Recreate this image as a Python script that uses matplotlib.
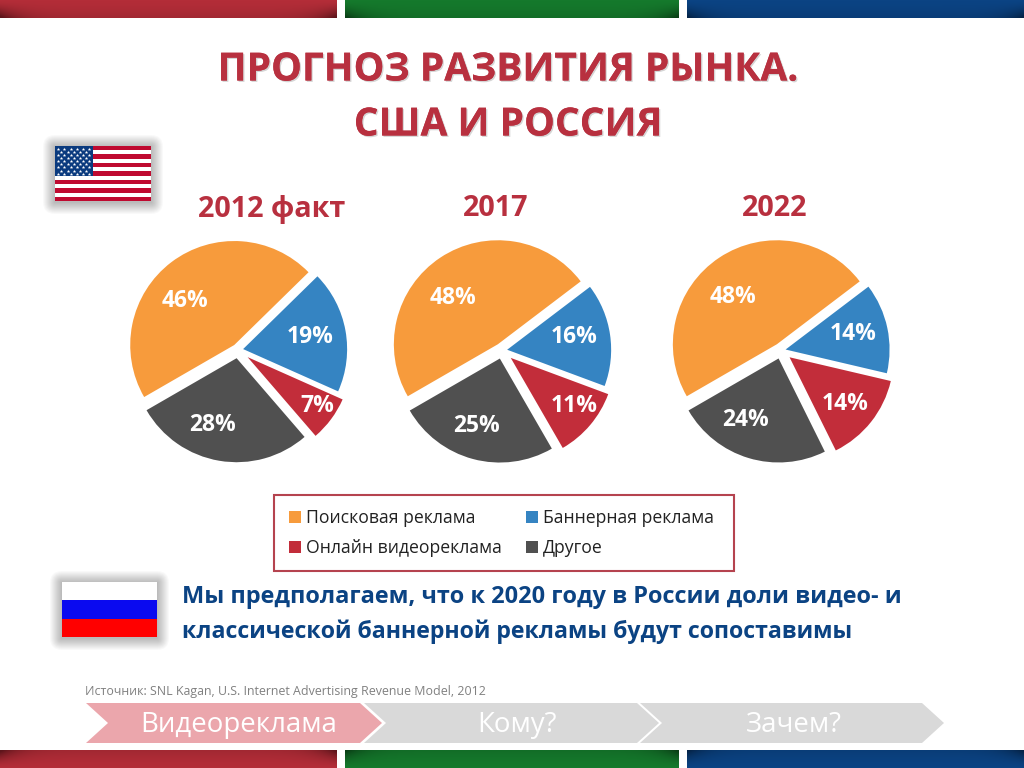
# encoding: utf-8
import matplotlib
matplotlib.use('Agg')
import matplotlib.pyplot as plt
import matplotlib.patheffects as pe
from matplotlib.patches import Rectangle, Polygon, FancyBboxPatch
import numpy as np

plt.rcParams['font.family'] = ['Open Sans', 'DejaVu Sans']

years = ['2012 факт', '2017', '2022']
categories = ['Поисковая реклама', 'Баннерная реклама', 'Онлайн видеореклама', 'Другое']
shares_2012 = [46, 19, 7, 28]
shares_2017 = [48, 16, 11, 25]
shares_2022 = [48, 14, 14, 24]
shares = [shares_2012, shares_2017, shares_2022]
steps = ['Видеореклама', 'Кому?', 'Зачем?']

colors = ['#F79B3C', '#3584C2', '#C22D3A', '#505050']
RED = '#B8303F'
BLUE = '#0B4383'

# centre of each pie in pixels, start angle, how far each slice is pulled out
pie_centres = [(238, 350), (502, 350.5), (781, 350.5)]
start_angles = [210, 210, 210]
explodes = [
    [0.06, 0.05, 0.115, 0.08],
    [0.072, 0.05, 0.11, 0.08],
    [0.072, 0.045, 0.105, 0.08],
]
year_x = [272, 496, 775]
# label pixel positions for every pie, same order as the data
label_pos = [
    [(185, 300), (310, 336), (317, 405), (213, 424)],
    [(453, 297), (574, 336), (574, 405), (477, 425)],
    [(733, 296), (853, 333), (845, 403), (746, 419)],
]

fig = plt.figure(figsize=(10.24, 7.68), dpi=100)
bg = fig.add_axes([0, 0, 1, 1])
bg.set_xlim(0, 1024)
bg.set_ylim(768, 0)
bg.axis('off')


def bar(x0, x1, y0, y1, col_mid, col_dark, flip=False):
    # gradient bar, darker along one edge and in the corners of that edge
    a = np.array(matplotlib.colors.to_rgb(col_mid))
    b = np.array(matplotlib.colors.to_rgb(col_dark))
    w = x1 - x0
    h = y1 - y0
    xs = np.abs(np.linspace(-1, 1, w)) ** 9
    ys = np.linspace(0, 1, h) ** 1.5
    if flip:
        ys = ys[::-1]
    t = np.clip(np.outer(ys, 0.2 + 0.9 * xs), 0, 1)[..., None]
    img = a * (1 - t) + b * t
    bg.imshow(img, extent=(x0, x1, y1, y0), aspect='auto', zorder=1, interpolation='bilinear')


for y0, y1, flip in [(0, 18, False), (750, 768, True)]:
    bar(0, 337, y0, y1, '#B32D38', '#5E151B', flip)
    bar(345, 679, y0, y1, '#15792C', '#0A3F16', flip)
bar(687, 1024, 0, 18, '#0B4383', '#052448', False)
bar(687, 1024, 750, 768, '#0B4383', '#052448', True)
bg.set_xlim(0, 1024)
bg.set_ylim(768, 0)


def shadow(x0, y0, x1, y1):
    for i in range(12, 0, -1):
        bg.add_patch(FancyBboxPatch((x0 - i, y0 - i + 1), x1 - x0 + 2 * i, y1 - y0 + 2 * i,
                                    boxstyle='round,pad=0,rounding_size=%d' % i,
                                    fc='#000000', ec='none', alpha=0.022, zorder=2))


# USA flag
fx0, fy0, fx1, fy1 = 55, 146, 151, 201
shadow(fx0, fy0, fx1, fy1)
bg.add_patch(Rectangle((fx0, fy0), fx1 - fx0, fy1 - fy0, fc='white', ec='none', zorder=3))
sh = (fy1 - fy0) / 13
for i in range(0, 13, 2):
    bg.add_patch(Rectangle((fx0, fy0 + i * sh), fx1 - fx0, sh, fc='#BF0A30', ec='none', zorder=3))
bg.add_patch(Rectangle((fx0, fy0), 38, 7 * sh, fc='#0A3A7E', ec='none', zorder=4))
sx, sy = [], []
for r in range(9):
    n = 6 if r % 2 == 0 else 5
    for c in range(n):
        sx.append(fx0 + 3.2 + c * 6.2 + (0 if r % 2 == 0 else 3.1))
        sy.append(fy0 + 2.8 + r * 3.1)
bg.scatter(sx, sy, s=7, marker='*', c='white', linewidths=0, zorder=5)

# Russian flag
rx0, ry0, rx1, ry1 = 62, 582, 157, 637
shadow(rx0, ry0, rx1, ry1)
for i, c in enumerate(['#FFFFFF', '#0A0AF0', '#FF0000']):
    bg.add_patch(Rectangle((rx0, ry0 + i * (ry1 - ry0) / 3), rx1 - rx0, (ry1 - ry0) / 3, fc=c, ec='none', zorder=3))

# title
title_fx = [pe.withSimplePatchShadow(offset=(1, -1), shadow_rgbFace='#888888', alpha=0.35), pe.Normal()]
bg.text(508, 70, 'ПРОГНОЗ РАЗВИТИЯ РЫНКА.', ha='center', va='center', fontsize=28, fontweight='bold',
        color=RED, path_effects=title_fx, zorder=6)
bg.text(508, 125, 'США И РОССИЯ', ha='center', va='center', fontsize=28, fontweight='bold',
        color=RED, path_effects=title_fx, zorder=6)

for x, name in zip(year_x, years):
    bg.text(x, 209, name, ha='center', va='center', fontsize=20.7, fontweight='bold', color=RED, zorder=6)

# pies
size = 260
for vals, (cx, cy), ang, expl, pos in zip(shares, pie_centres, start_angles, explodes, label_pos):
    ax = fig.add_axes([(cx - size / 2) / 1024, 1 - (cy + size / 2) / 768, size / 1024, size / 768])
    ax.pie(vals, colors=colors, startangle=ang, counterclock=False, explode=expl,
           wedgeprops={'linewidth': 0})
    ax.patch.set_alpha(0)
    for v, (px, py) in zip(vals, pos):
        fig.text(px / 1024, 1 - (py + 1) / 768, '%d%%' % v, ha='center', va='center', fontsize=16.5,
                 fontweight='bold', color='white', zorder=10)

# legend box
bg.add_patch(Rectangle((274, 495), 460, 76, fc='white', ec='#B5434F', lw=1.5, zorder=2))
leg_x = [289, 526, 289, 526]
leg_y = [517, 517, 547, 547]
for name, c, x, y in zip(categories, colors, leg_x, leg_y):
    bg.add_patch(Rectangle((x, y - 6), 12, 12, fc=c, ec='none', zorder=3))
    bg.text(x + 17, y + 1, name, ha='left', va='center', fontsize=12.7, color='#222222', zorder=3)

# russia text
bg.text(182, 597, 'Мы предполагаем, что к 2020 году в России доли видео- и', ha='left', va='center',
        fontsize=16.9, fontweight='bold', color=BLUE, zorder=6)
bg.text(182, 632, 'классической баннерной рекламы будут сопоставимы', ha='left', va='center',
        fontsize=16.7, fontweight='bold', color=BLUE, zorder=6)

bg.text(85, 692, 'Источник: SNL Kagan, U.S. Internet Advertising Revenue Model, 2012', ha='left', va='center',
        fontsize=8.95, color='#808080', zorder=6)

# chevrons at the bottom
chev_x = [(86, 360), (364, 637), (640, 922)]
chev_col = ['#EBA6AC', '#D9D9D9', '#D9D9D9']
step_x = [239, 517, 794]
top, bot = 703, 743
tip = 22
for (x0, x1), c, name, tx in zip(chev_x, chev_col, steps, step_x):
    mid = (top + bot) / 2
    bg.add_patch(Polygon([(x0, top), (x1, top), (x1 + tip, mid), (x1, bot), (x0, bot), (x0 + tip, mid)],
                         closed=True, fc=c, ec='none', zorder=3))
    bg.text(tx, mid + 2, name, ha='center', va='center', fontsize=19.9, color='white', zorder=6)

fig.savefig('out.png', dpi=100, facecolor='white')
